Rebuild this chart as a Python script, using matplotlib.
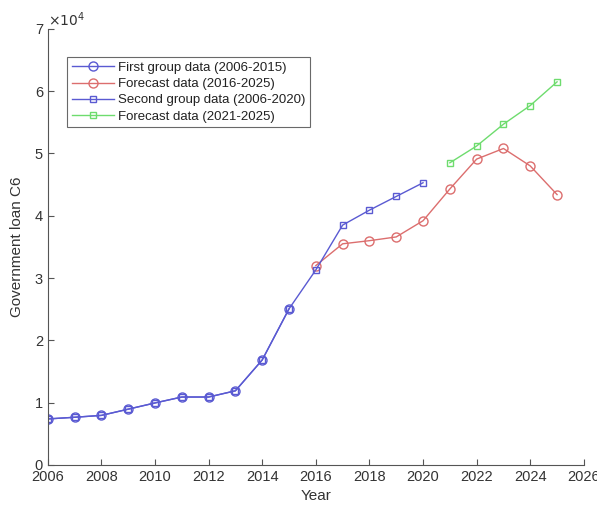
import matplotlib
matplotlib.use("Agg")
import matplotlib.pyplot as plt
from matplotlib.ticker import FuncFormatter

plt.rcParams['font.family'] = ['Liberation Sans', 'DejaVu Sans']

years1 = [2006, 2007, 2008, 2009, 2010, 2011, 2012, 2013, 2014, 2015]
first_group = [7380, 7650, 7950, 8950, 9950, 10900, 10900, 11900, 16850, 25050]

years_f1 = [2016, 2017, 2018, 2019, 2020, 2021, 2022, 2023, 2024, 2025]
forecast1 = [32000, 35500, 36000, 36600, 39200, 44300, 49100, 50800, 48000, 43400]

years2 = list(range(2006, 2021))
second_group = [7380, 7650, 7950, 8950, 9950, 10900, 10900, 11900, 16850, 25050,
                31300, 38500, 40900, 43100, 45300]

years_f2 = [2021, 2022, 2023, 2024, 2025]
forecast2 = [48500, 51200, 54700, 57700, 61500]

labels = ['First group data (2006-2015)', 'Forecast data (2016-2025)',
          'Second group data (2006-2020)', 'Forecast data (2021-2025)']

blue = '#5a5ad2'
red = '#dc6e6e'
green = '#6edc6e'

fig = plt.figure(figsize=(5.97, 5.07), dpi=100)
ax = fig.add_axes([0.080, 0.083, 0.898, 0.860])

ax.plot(years1, first_group, '-o', color=blue, mfc='none', ms=6.5, lw=1.0, mew=1.0, label=labels[0])
ax.plot(years_f1, forecast1, '-o', color=red, mfc='none', ms=6.5, lw=1.0, mew=1.0, label=labels[1])
ax.plot(years2, second_group, '-s', color=blue, mfc='none', ms=5, lw=1.0, mew=1.0, label=labels[2])
ax.plot(years_f2, forecast2, '-s', color=green, mfc='none', ms=5, lw=1.0, mew=1.0, label=labels[3])

ax.set_xlim(2006, 2026)
ax.set_ylim(0, 70000)
ax.set_xticks(range(2006, 2027, 2))
ax.set_yticks(range(0, 70001, 10000))
ax.yaxis.set_major_formatter(FuncFormatter(lambda v, p: f'{v/1e4:g}'))

for s in ['top', 'right']:
    ax.spines[s].set_visible(False)
for s in ['left', 'bottom']:
    ax.spines[s].set_color('#555555')
    ax.spines[s].set_linewidth(0.8)
ax.tick_params(direction='in', length=4, width=0.8, color='#555555',
               labelsize=10.5, labelcolor='#333333')

ax.set_xlabel('Year', fontsize=11, color='#333333', labelpad=4)
ax.set_ylabel('Government loan C6', fontsize=11, color='#333333', labelpad=8)
ax.text(0.0, 1.0, r'$\times 10^{4}$', transform=ax.transAxes, fontsize=10,
        color='#333333', ha='left', va='bottom')

leg = ax.legend(loc='upper left', bbox_to_anchor=(0.036, 0.935), fontsize=9.5,
                frameon=True, fancybox=False, edgecolor='#444444',
                handlelength=3.2, borderpad=0.35, labelspacing=0.3,
                handletextpad=0.3, borderaxespad=0)
leg.get_frame().set_linewidth(0.8)
for t in leg.get_texts():
    t.set_color('#222222')

fig.savefig('out.png', dpi=100)
